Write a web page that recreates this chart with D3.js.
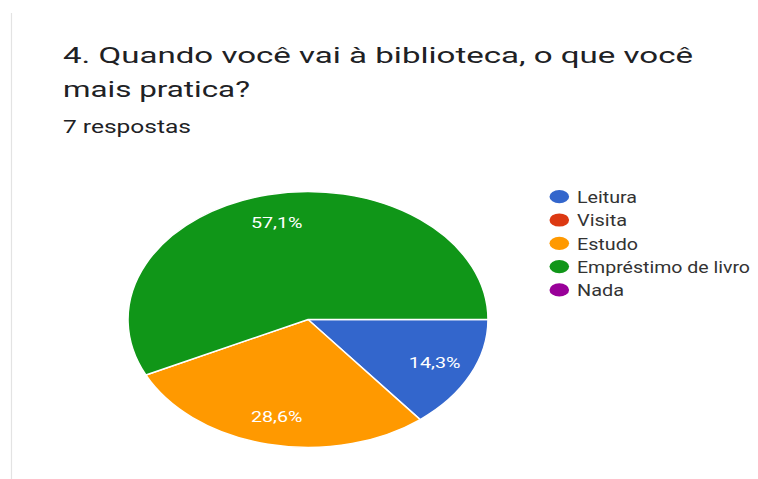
<!DOCTYPE html>
<html>
<head>
<meta charset="utf-8">
<script src="https://cdn.jsdelivr.net/npm/d3@7"></script>
<style>
  html, body { margin: 0; padding: 0; background: #ffffff; }
  svg { display: block; }
</style>
</head>
<body>
<svg id="chart" width="758" height="479"></svg>
<script>
// Survey answers: question 4, 7 responses
const categories = ["Leitura", "Visita", "Estudo", "Empréstimo de livro", "Nada"];
const counts = [1, 0, 2, 4, 0];
const percentLabels = ["14,3%", "", "28,6%", "57,1%", ""];
const colors = ["#3366cc", "#dc3912", "#ff9900", "#109618", "#990099"];
const titleLines = ["4. Quando você vai à biblioteca, o que você", "mais pratica?"];
const subtitle = "7 respostas";

const svg = d3.select("#chart");
const font = "Roboto, 'Noto Sans', sans-serif";

// card edge on the left
svg.append("line")
  .attr("x1", 11.5).attr("x2", 11.5)
  .attr("y1", 13).attr("y2", 479)
  .attr("stroke", "#e3e3e3").attr("stroke-width", 1.2);

// heading
const titleBase = [62.7, 97.3];
const titleWidths = [630, 187];
titleLines.forEach((t, i) => {
  svg.append("text")
    .attr("x", 63).attr("y", titleBase[i])
    .attr("font-family", font).attr("font-size", 21.7)
    .attr("fill", "#202124")
    .attr("textLength", titleWidths[i]).attr("lengthAdjust", "spacingAndGlyphs")
    .text(t);
});
svg.append("text")
  .attr("x", 63).attr("y", 132.7)
  .attr("font-family", font).attr("font-size", 17.6)
  .attr("fill", "#202124")
  .attr("textLength", 128).attr("lengthAdjust", "spacingAndGlyphs")
  .text(subtitle);

// pie, drawn with a horizontal stretch
const cx = 308, cy = 319.5, R = 128, sx = 1.406;
const pie = d3.pie().sort(null).value(d => d)
  .startAngle(Math.PI / 2).endAngle(Math.PI / 2 + 2 * Math.PI);
const arcs = pie(counts);
const arc = d3.arc().innerRadius(0).outerRadius(R);
const labelArc = d3.arc().innerRadius(100).outerRadius(100);

const g = svg.append("g").attr("transform", `translate(${cx},${cy}) scale(${sx},1)`);
g.selectAll("path")
  .data(arcs.filter(a => a.value > 0))
  .join("path")
  .attr("d", arc)
  .attr("fill", a => colors[a.index])
  .attr("stroke", "#ffffff")
  .attr("stroke-width", 1.5)
  .attr("vector-effect", "non-scaling-stroke");

// slice percentages
svg.append("g").selectAll("text")
  .data(arcs.filter(a => a.value > 0))
  .join("text")
  .attr("x", a => cx + labelArc.centroid(a)[0] * sx)
  .attr("y", a => cy + labelArc.centroid(a)[1] + 5.5)
  .attr("text-anchor", "middle")
  .attr("font-family", font).attr("font-size", 15.5)
  .attr("fill", "#ffffff")
  .attr("textLength", 51.6).attr("lengthAdjust", "spacingAndGlyphs")
  .text(a => percentLabels[a.index]);

// legend
const legendWidths = [60, 50, 61, 173, 47];
const legend = svg.append("g");
const rows = legend.selectAll("g")
  .data(categories)
  .join("g")
  .attr("transform", (d, i) => `translate(0,${196.7 + i * 23.3})`);
rows.append("ellipse")
  .attr("cx", 559.3).attr("cy", 0)
  .attr("rx", 9.8).attr("ry", 6.6)
  .attr("fill", (d, i) => colors[i]);
rows.append("text")
  .attr("x", 577).attr("y", 6.2)
  .attr("font-family", font).attr("font-size", 16.4)
  .attr("fill", "#333333")
  .attr("textLength", (d, i) => legendWidths[i]).attr("lengthAdjust", "spacingAndGlyphs")
  .text(d => d);
</script>
</body>
</html>
